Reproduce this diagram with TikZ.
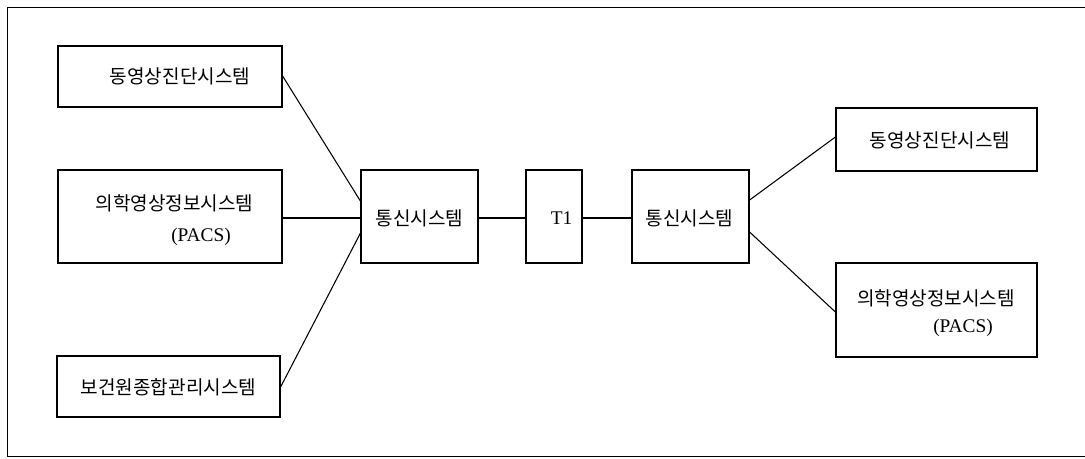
\documentclass[tikz,border=0pt]{standalone}
\usepackage{fontspec}
\setmainfont{Liberation Serif}
\newfontfamily\kr{Noto Sans CJK KR}
\begin{document}
\begin{tikzpicture}[x=0.75pt,y=-0.75pt,
  box/.style={draw,line width=0.9pt,inner sep=0pt},
  lbl/.style={inner sep=0pt,font=\kr\fontsize{14.3pt}{16pt}\selectfont},
  lat/.style={inner sep=0pt,font=\fontsize{14.5pt}{16pt}\selectfont},
  conn/.style={line width=0.8pt}]
\useasboundingbox (0,0) rectangle (1085,458);
\draw[line width=1.4pt] (1085,7.5) -- (7.5,7.5) -- (7.5,456.5) -- (1085,456.5);
% boxes
\node[box,minimum width=224*0.75pt,minimum height=61*0.75pt] (b1) at (170,76.5) {};
\node[box,minimum width=224*0.75pt,minimum height=93*0.75pt] (b2) at (170,216.5) {};
\node[box,minimum width=223*0.75pt,minimum height=61*0.75pt] (b3) at (168.5,386.5) {};
\node[box,minimum width=117*0.75pt,minimum height=93*0.75pt] (c1) at (419.5,216.5) {};
\node[box,minimum width=56*0.75pt,minimum height=93*0.75pt] (t1) at (554,216.5) {};
\node[box,minimum width=117*0.75pt,minimum height=93*0.75pt] (c2) at (690.5,216.5) {};
\node[box,minimum width=201*0.75pt,minimum height=63*0.75pt] (r1) at (936.5,139.5) {};
\node[box,minimum width=201*0.75pt,minimum height=94*0.75pt] (r2) at (936.5,310) {};
% texts
\node[lbl] (tb1) at (180,76) {동영상진단시스템};
\node[lbl] (tb2) at (174.5,203) {의학영상정보시스템};
\node[lat] (pb2) at (201,237) {(PACS)};
\node[lbl] (tb3) at (168.5,387) {보건원종합관리시스템};
\node[lbl] (tc1) at (419.5,218) {통신시스템};
\node[lat] (tt1) at (561.5,218) {T1};
\node[lbl] (tc2) at (689.5,218) {통신시스템};
\node[lbl] (tr1) at (940,140) {동영상진단시스템};
\node[lbl] (tr2) at (936,298) {의학영상정보시스템};
\node[lat] (pr2) at (963,328) {(PACS)};
% connectors
\coordinate (c1a) at (361,202);
\coordinate (c1c) at (361,232);
\draw[conn] (b1.east |- 0,76) -- (c1a);
\draw[conn] (b2.east |- 0,218) -- (c1.west |- 0,218);
\draw[conn] (b3.east |- 0,387) -- (c1c);
\draw[conn] (c1.east |- 0,218) -- (t1.west |- 0,218);
\draw[conn] (t1.east |- 0,218) -- (c2.west |- 0,218);
\draw[conn] (c2.east |- 0,200) -- (r1.west |- 0,137);
\draw[conn] (c2.east |- 0,232) -- (r2.west |- 0,312);
\end{tikzpicture}
\end{document}
